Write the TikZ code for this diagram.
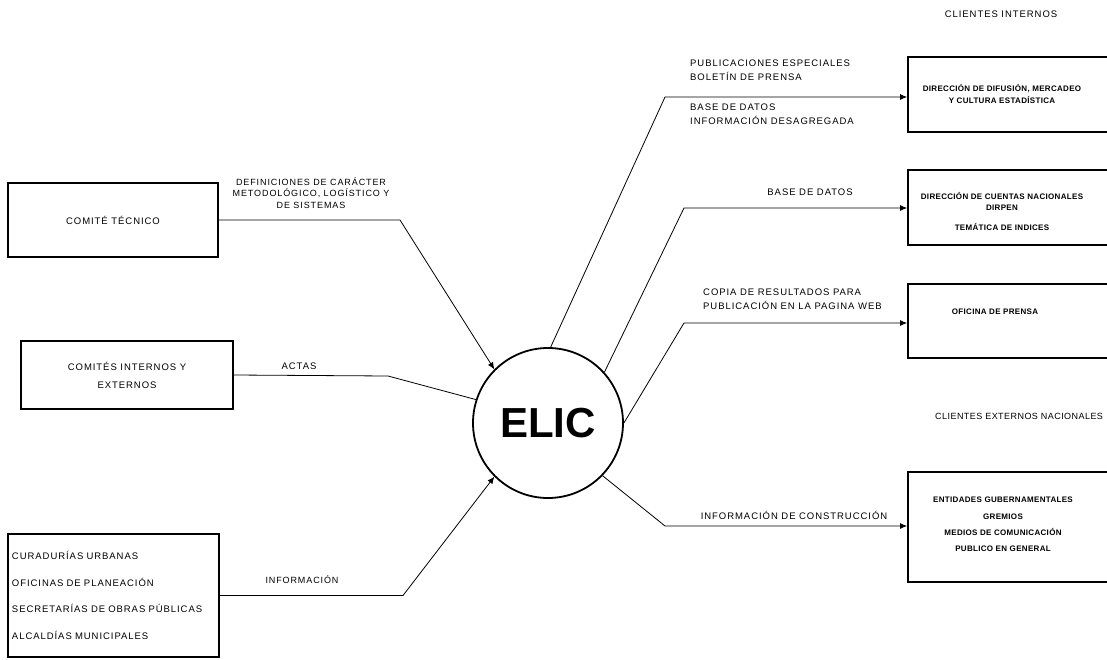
\documentclass[tikz,border=0pt]{standalone}
\usepackage{fontspec}
\setmainfont{Liberation Sans}
\newfontfamily\lblfont[LetterSpace=10]{Liberation Sans}
\newfontfamily\tightfont[LetterSpace=5]{Liberation Sans}
\newfontfamily\boxfont[LetterSpace=4]{Liberation Sans}
\usetikzlibrary{arrows.meta}
\tikzset{
  box/.style={draw, line width=1.8pt, inner sep=0pt, align=center,
    font=\lblfont\fontsize{9.5}{18}\selectfont},
  rbox/.style={draw, line width=1.8pt, inner sep=0pt, minimum width=207pt},
  lab/.style={inner sep=0pt, align=center, font=\lblfont\fontsize{9.5}{14}\selectfont},
  boxtext/.style={inner sep=0pt, align=center, font=\boxfont\bfseries\fontsize{8}{12}\selectfont},
  flow/.style={line width=0.8pt, -{Latex[length=7pt,width=6pt]}},
  plain/.style={line width=0.8pt},
}
\begin{document}
\begin{tikzpicture}[x=1pt,y=-1pt]
\useasboundingbox (0,0) rectangle (1107,660);
\fill[white] (0,0) rectangle (1107,660);
\clip (0,0) rectangle (1107,660);

% left boxes
\node[box, minimum width=210pt, minimum height=74pt] (ct) at (113,220) {COMITÉ TÉCNICO};
\node[box, minimum width=212pt, minimum height=68pt] (ci) at (127,375) {COMITÉS INTERNOS Y\\EXTERNOS};
\node[box, minimum width=211pt, minimum height=123pt, text width=203pt, align=left,
      font=\lblfont\fontsize{9.5}{26.5}\selectfont] (cu) at (113.5,595.5)
  {CURADURÍAS URBANAS\\OFICINAS DE PLANEACIÓN\\SECRETARÍAS DE OBRAS PÚBLICAS\\ALCALDÍAS MUNICIPALES};

% central process
\node[circle, draw, line width=1.8pt, minimum size=150pt, inner sep=0pt,
      font=\bfseries\fontsize{42}{42}\selectfont] (elic) at (548,423) {\raisebox{-3pt}{ELIC}};

% right boxes
\node[rbox, minimum height=75pt] (rb1) at (1011.5,94.5) {};
\node[rbox, minimum height=75pt] (rb2) at (1011.5,207.5) {};
\node[rbox, minimum height=74pt] (rb3) at (1011.5,321) {};
\node[rbox, minimum height=110pt] (rb4) at (1011.5,527) {};

\node[boxtext] (rt1) at (1002,94) {DIRECCIÓN DE DIFUSIÓN, MERCADEO\\Y CULTURA ESTADÍSTICA};
\node[boxtext, font=\boxfont\bfseries\fontsize{8}{11}\selectfont] (rt2) at (1002,211) {DIRECCIÓN DE CUENTAS NACIONALES\\DIRPEN\\[9pt]TEMÁTICA DE INDICES};
\node[boxtext] (rt3) at (995,312) {OFICINA DE PRENSA};
\node[boxtext, font=\boxfont\bfseries\fontsize{8}{17}\selectfont] (rt4) at (1003,524) {ENTIDADES GUBERNAMENTALES\\GREMIOS\\[-1pt]MEDIOS DE COMUNICACIÓN\\[-1pt]PUBLICO EN GENERAL};

% headings
\node[lab] (h1) at (1001,14) {CLIENTES INTERNOS};
\node[lab, font=\tightfont\fontsize{9}{14}\selectfont, anchor=west] (h2) at (935,416) {CLIENTES EXTERNOS NACIONALES};

% bend points
\coordinate (b1) at (400,220);
\coordinate (b2) at (388,376);
\coordinate (b3) at (403,595.5);
\coordinate (b4) at (665,97);
\coordinate (b5) at (684,208);
\coordinate (b6) at (684,323);
\coordinate (b7) at (665,526);

% connectors
\draw[flow] (ct.east) -- (b1) -- (elic.135);
\draw[plain] (ci.east) -- (b2) -- (elic.162);
\draw[flow] (cu.east) -- (b3) -- (elic.225);
\draw[flow] (elic.88) -- (b4) -- (b4 -| rb1.west);
\draw[flow] (elic.42) -- (b5) -- (b5 -| rb2.west);
\draw[flow] (elic.0) -- (b6) -- (b6 -| rb3.west);
\draw[flow] (elic.316) -- (b7) -- (b7 -| rb4.west);

% connector labels
\node[lab, font=\lblfont\fontsize{9}{11.5}\selectfont] (l1) at (311,193) {DEFINICIONES DE CARÁCTER\\METODOLÓGICO, LOGÍSTICO Y\\DE SISTEMAS};
\node[lab] (l2) at (299,366) {ACTAS};
\node[lab, font=\lblfont\fontsize{9}{14}\selectfont] (l3) at (302,580) {INFORMACIÓN};
\node[lab, anchor=west, align=left] (l4) at (690,70) {PUBLICACIONES ESPECIALES\\BOLETÍN DE PRENSA};
\node[lab, anchor=west, align=left] (l5) at (690,114.5) {BASE DE DATOS\\INFORMACIÓN DESAGREGADA};
\node[lab] (l6) at (810,192) {BASE DE DATOS};
\node[lab, anchor=west, align=left] (l7) at (703,299) {COPIA DE RESULTADOS PARA\\PUBLICACIÓN EN LA PAGINA WEB};
\node[lab] (l8) at (794,515) {INFORMACIÓN DE CONSTRUCCIÓN};
\end{tikzpicture}
\end{document}
